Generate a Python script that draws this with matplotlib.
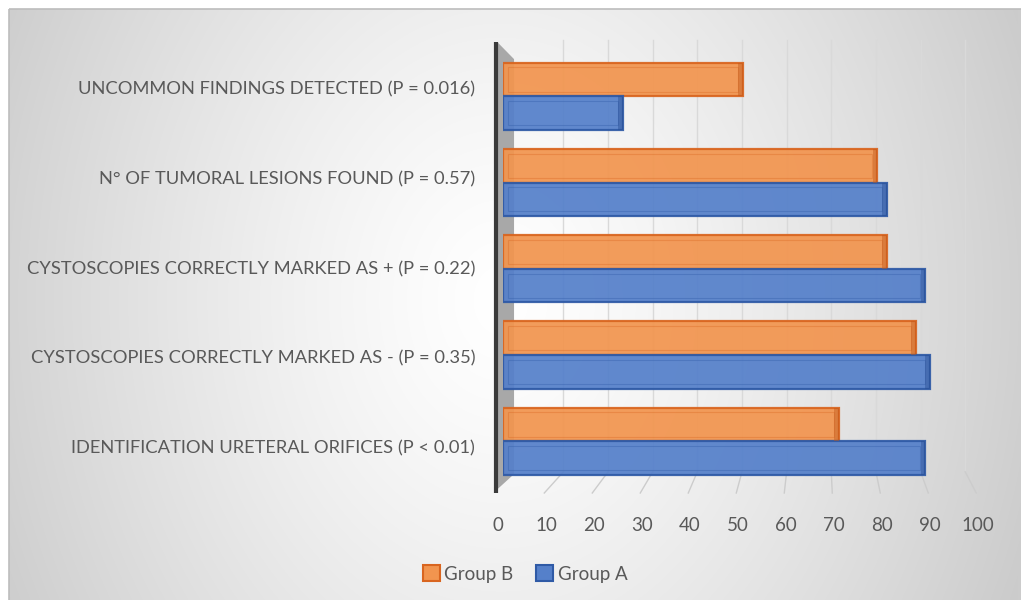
import numpy as np
import matplotlib.pyplot as plt
from matplotlib.patches import Polygon, Rectangle
from matplotlib.transforms import blended_transform_factory, ScaledTranslation

plt.rcParams['font.family'] = ['Lato', 'DejaVu Sans']

# datos (de abajo hacia arriba)
categorias = [
    'IDENTIFICATION URETERAL ORIFICES (P < 0.01)',
    'CYSTOSCOPIES CORRECTLY MARKED AS - (P = 0.35)',
    'CYSTOSCOPIES CORRECTLY MARKED AS + (P = 0.22)',
    'N° OF TUMORAL LESIONS FOUND (P = 0.57)',
    'UNCOMMON FINDINGS DETECTED (P = 0.016)',
]
grupo_a = [88, 89, 88, 80, 25]
grupo_b = [70, 86, 80, 78, 50]
ticks_x = list(range(0, 101, 10))

W, H = 1021, 600
fig = plt.figure(figsize=(W / 100, H / 100), dpi=100)

# fondo con degradado radial
bg = fig.add_axes([0, 0, 1, 1], zorder=-10)
yy, xx = np.mgrid[0:H, 0:W]
r = np.sqrt(((xx - 500) / 560.0) ** 2 + ((yy - 300) / 710.0) ** 2)
t = np.clip(r, 0, 1) ** 1.3
gris = 0.80
img = 1 - (1 - gris) * t
rgb = np.dstack([img, img, img])
rgb[:9, :, :] = 1.0
rgb[:, :9, :] = 1.0
bg.imshow(rgb, extent=[0, W, H, 0], aspect='auto', interpolation='bilinear')
bg.add_patch(Rectangle((9, 9), W, H, facecolor='none', edgecolor='#bdbdbd', lw=1.2))
bg.set_xlim(0, W)
bg.set_ylim(H, 0)
bg.axis('off')

# area del grafico en pixeles: x 503-983, y 42-493
ax = fig.add_axes([503 / W, (H - 493) / H, 480 / W, 451 / H])
ax.patch.set_alpha(0)
for s in ax.spines.values():
    s.set_visible(False)

pos = np.arange(len(categorias))
ax.set_xlim(0, 100)
ax.set_ylim(-0.60, 4.63)

trans = blended_transform_factory(ax.transData, ax.transAxes)
piso = 0.047  # borde inferior de la pared del fondo

# lineas de la cuadricula con perspectiva
fuga, k = 47, 0.93
for v in ticks_x[1:]:
    vb = fuga + (v - fuga) * k
    ax.plot([vb, vb], [piso, 1.005], color='#d9d9d9', lw=1, transform=trans,
            clip_on=False, zorder=1)
    ax.plot([vb, v - 1.4], [piso, 0.0], color='#cccccc', lw=1, transform=trans,
            clip_on=False, zorder=1)

# pared lateral gris
pared = Polygon([(-1.2, 1.0), (2.3, 0.962), (2.3, 0.042), (-1.2, 0.008)],
                closed=True, facecolor='#a8a8a8', edgecolor='none',
                transform=trans, clip_on=False, zorder=2)
ax.add_patch(pared)
ax.plot([-1.5, -1.5], [1.0, 0.0], color='#3a3a3a', lw=3, transform=trans,
        clip_on=False, zorder=3, solid_capstyle='butt')

h = 0.39
colores = {
    'b': ('#F2954F', '#D9651F', '#C0581A'),
    'a': ('#5580CA', '#2F5AA6', '#2A4F94'),
}
for serie, vals, off in (('b', grupo_b, h / 2), ('a', grupo_a, -h / 2)):
    cara, borde, lado = colores[serie]
    ax.barh(pos + off, vals, height=h, color=cara, edgecolor=borde,
            linewidth=1.6, alpha=0.93, zorder=4)
    # bisel interior
    ax.barh(pos + off, np.array(vals) - 2.2, left=1.1, height=h * 0.72,
            facecolor='none', edgecolor=borde, linewidth=0.8, alpha=0.35, zorder=5)
    # cara lateral del extremo
    ax.barh(pos + off, 1.0, left=np.array(vals) - 1.0, height=h, color=lado,
            alpha=0.45, linewidth=0, zorder=5)

# etiquetas de categoria (espaciado un poco mayor por la perspectiva)
ax.set_yticks(-0.067 + 1.04 * pos)
ax.set_yticklabels(categorias, fontsize=13.2, color='#595959')
ax.tick_params(axis='y', length=0, pad=20)
ax.set_xticks(ticks_x)
ax.set_xticklabels([str(v) for v in ticks_x], fontsize=13.5, color='#595959')
ax.tick_params(axis='x', length=0, pad=17)
for lab in ax.get_xticklabels():
    lab.set_transform(lab.get_transform() + ScaledTranslation(-5 / 100, 0, fig.dpi_scale_trans))

# leyenda
hb = Rectangle((0, 0), 1, 1, facecolor=colores['b'][0], edgecolor=colores['b'][1], linewidth=1.5)
ha = Rectangle((0, 0), 1, 1, facecolor=colores['a'][0], edgecolor=colores['a'][1], linewidth=1.5)
leg = fig.legend([hb, ha], ['Group B', 'Group A'], loc='center',
                 bbox_to_anchor=(525 / W, 1 - 574 / H), ncol=2, frameon=False,
                 fontsize=13.5, handlelength=0.9, handleheight=0.9,
                 handletextpad=0.25, columnspacing=1.2)
for txt in leg.get_texts():
    txt.set_color('#595959')

fig.savefig('out.png', dpi=100)
